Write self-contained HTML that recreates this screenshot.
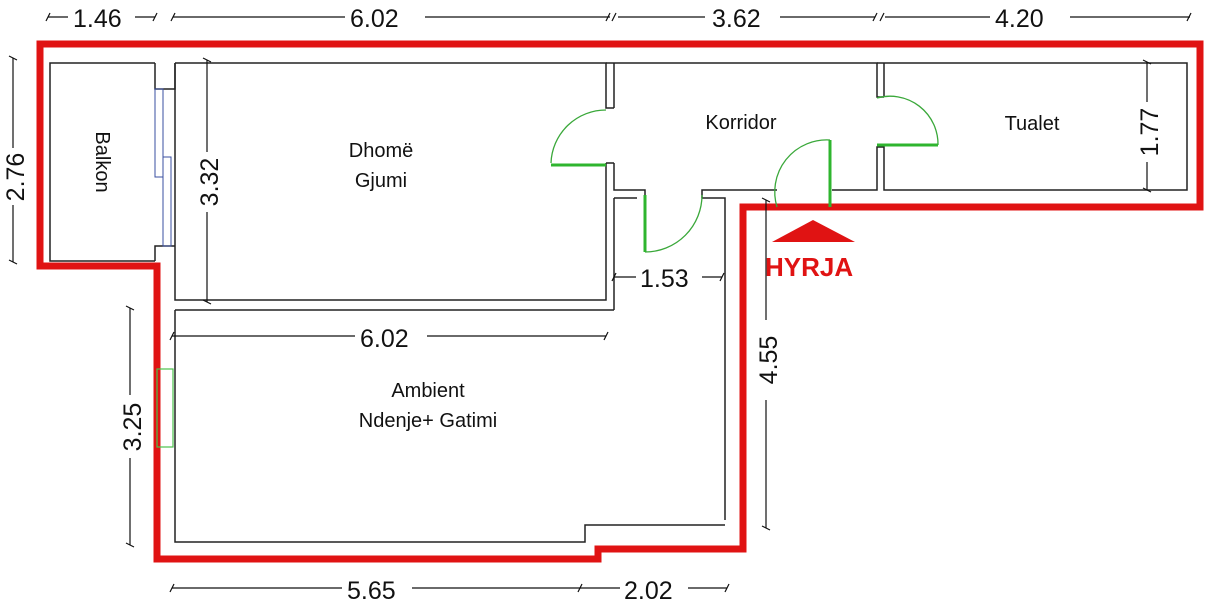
<!DOCTYPE html>
<html><head><meta charset="utf-8"><style>
body{margin:0;background:#fff}
svg{display:block}
text{font-family:"Liberation Sans",sans-serif;fill:#111}
</style></head><body>
<svg width="1213" height="605" viewBox="0 0 1213 605" xmlns="http://www.w3.org/2000/svg">
<rect width="1213" height="605" fill="#fff"/>
<path d="M40,44 H1200 V207 H743 V549 H598 V559 H157 V266 H40 Z" fill="none" stroke="#e01313" stroke-width="7"/>
<g fill="none" stroke="#222" stroke-width="1.5">
<path d="M155,63 H50 V261 H155"/>
<path d="M155,63 V89 H163"/>
<path d="M155,261 V246 H163"/>
<path d="M175,63 V89 H163 M175,246 H163"/>
<path d="M175,63 H606 V108 H614"/>
<path d="M606,163 H614 M606,163 V300 H175 V63"/>
<path d="M614,63 V108 M606,63 H614"/>
<path d="M614,63 H877 V97 H884"/>
<path d="M884,63 H1187 V190 H884 V147 H877 V190 H832"/>
<path d="M884,63 V97 M877,63 H884"/>
<path d="M614,163 V190 H645 V198 M702,198 V190 H777"/>
<path d="M614,198 H637 M702,198 H725 V520"/>
<path d="M614,198 V310"/>
<path d="M175,310 H614 M175,310 V542 H585 V525 H725"/>
</g>
<g fill="none" stroke="#3a4fa0" stroke-width="1">
<rect x="155" y="89" width="8" height="88"/>
<rect x="163" y="157" width="8" height="89"/>
</g>
<rect x="157" y="369" width="16" height="78" fill="none" stroke="#4bc24b" stroke-width="1.2"/>
<g fill="none" stroke="#3aa83a" stroke-width="1.3">
<path d="M551,163 A55,55 0 0 1 606,110"/>
<path d="M645,252 A57,57 0 0 0 702,195"/>
<path d="M877,98 A48,48 0 0 1 938,145"/>
<path d="M777,207 A52,52 0 0 1 830,140"/>
</g>
<g stroke="#2fb52f" stroke-width="3">
<line x1="551" y1="165" x2="606" y2="165"/>
<line x1="645" y1="195" x2="645" y2="252"/>
<line x1="877" y1="145" x2="938" y2="145"/>
<line x1="830" y1="140" x2="830" y2="207"/>
</g>
<polygon points="772,242 813,220 855,242" fill="#e01313"/>
<text x="765" y="276" font-size="26" font-weight="bold" style="fill:#e01313">HYRJA</text>
<g stroke="#111" stroke-width="1.2" fill="none">
<path d="M48,17 H68 M135,17 H155 M173,17 H345 M425,17 H610 M618,17 H705 M780,17 H875 M885,17 H990 M1070,17 H1190"/>
<path d="M13,58 V148 M13,205 V262"/>
<path d="M207,60 V152 M207,212 V302"/>
<path d="M1147,62 V102 M1147,162 V190"/>
<path d="M130,308 V395 M130,458 V545"/>
<path d="M766,200 V320 M766,400 V528"/>
<path d="M172,336 H355 M427,336 H606"/>
<path d="M614,277 H636 M702,277 H722"/>
<path d="M172,588 H342 M412,588 H620 M688,588 H727"/>
<path d="M46,21 l4,-8 M153,21 l4,-8 M171,21 l4,-8 M606,21 l4,-8 M612,21 l4,-8 M873,21 l4,-8 M880,21 l4,-8 M1187,21 l4,-8"/>
<path d="M9,56 l8,4 M9,260 l8,4 M203,58 l8,4 M203,300 l8,4 M1143,60 l8,4 M1143,188 l8,4 M126,306 l8,4 M126,543 l8,4 M762,198 l8,4 M762,526 l8,4"/>
<path d="M170,340 l4,-8 M604,340 l4,-8 M612,281 l4,-8 M720,281 l4,-8 M170,592 l4,-8 M578,592 l4,-8 M725,592 l4,-8"/>
</g>
<g font-size="25">
<text x="73" y="27">1.46</text>
<text x="350" y="27">6.02</text>
<text x="712" y="27">3.62</text>
<text x="995" y="27">4.20</text>
<text x="360" y="347">6.02</text>
<text x="640" y="287">1.53</text>
<text x="347" y="599">5.65</text>
<text x="624" y="599">2.02</text>
<text transform="translate(24,177) rotate(-90)" text-anchor="middle">2.76</text>
<text transform="translate(218,182) rotate(-90)" text-anchor="middle">3.32</text>
<text transform="translate(1158,132) rotate(-90)" text-anchor="middle">1.77</text>
<text transform="translate(141,427) rotate(-90)" text-anchor="middle">3.25</text>
<text transform="translate(777,360) rotate(-90)" text-anchor="middle">4.55</text>
</g>
<g font-size="20" text-anchor="middle">
<text x="381" y="157">Dhomë</text>
<text x="381" y="187">Gjumi</text>
<text x="741" y="129">Korridor</text>
<text x="1032" y="130">Tualet</text>
<text x="428" y="397">Ambient</text>
<text x="428" y="427">Ndenje+ Gatimi</text>
<text transform="translate(96,162) rotate(90)">Balkon</text>
</g>
</svg>
</body></html>
